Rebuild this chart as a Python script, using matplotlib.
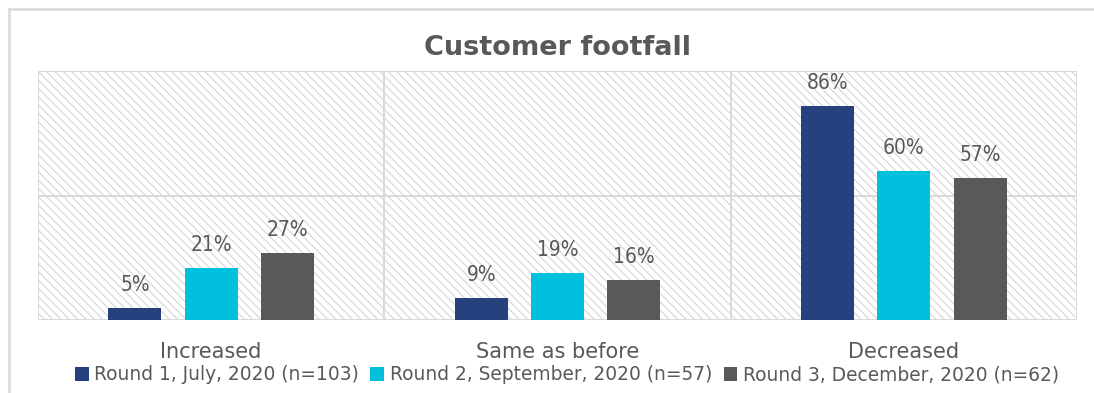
import matplotlib
matplotlib.use("Agg")
import matplotlib.pyplot as plt
from matplotlib.patches import Rectangle, Patch
from matplotlib.lines import Line2D
from matplotlib.transforms import ScaledTranslation
import numpy as np

# Survey data: share of respondents (%) per footfall change category
categories = ["Increased", "Same as before", "Decreased"]
series_names = [
    "Round 1, July, 2020 (n=103)",
    "Round 2, September, 2020 (n=57)",
    "Round 3, December, 2020 (n=62)",
]
round1 = [5, 9, 86]
round2 = [21, 19, 60]
round3 = [27, 16, 57]
series_values = [round1, round2, round3]
series_colors = ["#27417F", "#00C0DE", "#595959"]

TEXT = "#595959"
GRID = "#D9D9D9"

plt.rcParams["font.family"] = ["DejaVu Sans"]
plt.rcParams["hatch.linewidth"] = 0.8

W, H = 1094, 393
fig = plt.figure(figsize=(W / 100, H / 100), dpi=100)
fig.patch.set_facecolor("white")

# outer chart frame
fig.add_artist(Line2D([9 / W, 9 / W], [0, 1 - 9 / H], color=GRID, lw=1.8,
                      transform=fig.transFigure))
fig.add_artist(Line2D([9 / W, 1], [1 - 9 / H, 1 - 9 / H], color=GRID, lw=1.8,
                      transform=fig.transFigure))

left, right, top, bottom = 38, 1077, 71, 320
ax = fig.add_axes([left / W, 1 - bottom / H, (right - left) / W, (bottom - top) / H])
ax.set_xlim(-0.5, len(categories) - 0.5)
ax.set_ylim(0, 100)

# hatched plot-area background
ax.add_patch(Rectangle((0, 0), 1, 1, transform=ax.transAxes, facecolor="white",
                       edgecolor="#D6D6D6", hatch="\\\\\\\\", lw=0, zorder=0))

for y in (0, 50, 100):
    ax.axhline(y, color=GRID, lw=1.4, zorder=1)
for xv in np.arange(-0.5, len(categories), 1.0):
    ax.axvline(xv, color=GRID, lw=1.4, zorder=1)

for s in ax.spines.values():
    s.set_visible(False)
ax.set_xticks([])
ax.set_yticks([])

x = np.arange(len(categories))
offsets = [-0.22, 0.0, 0.22]
bw = 0.153
for vals, off, col in zip(series_values, offsets, series_colors):
    bars = ax.bar(x + off, vals, width=bw, color=col, zorder=3)
    for b, v in zip(bars, vals):
        ax.annotate(f"{v}%", (b.get_x() + b.get_width() / 2, v),
                    xytext=(0, 12.2), textcoords="offset points",
                    ha="center", va="baseline", fontsize=15, color=TEXT,
                    fontstretch="condensed")

# category labels beneath the plot area
lab_tr = ax.get_xaxis_transform() + ScaledTranslation(0, -38 / 100, fig.dpi_scale_trans)
for xi, c in zip(x, categories):
    ax.text(xi, 0, c, transform=lab_tr, ha="center", va="baseline",
            fontsize=15, color=TEXT)

fig.text(557 / W, 1 - 55 / H, "Customer footfall", ha="center", va="baseline",
         fontsize=19.5, fontweight="bold", color=TEXT)

handles = [Patch(facecolor=c, edgecolor="none") for c in series_colors]
fig.legend(handles, series_names, loc="center", ncol=3,
           bbox_to_anchor=(567 / W, 1 - 375 / H), frameon=False,
           fontsize=13.4, labelcolor=TEXT, handlelength=0.75, handleheight=0.75,
           handletextpad=0.3, columnspacing=0.6, borderpad=0, borderaxespad=0)

fig.savefig("out.png", dpi=100, facecolor="white")
